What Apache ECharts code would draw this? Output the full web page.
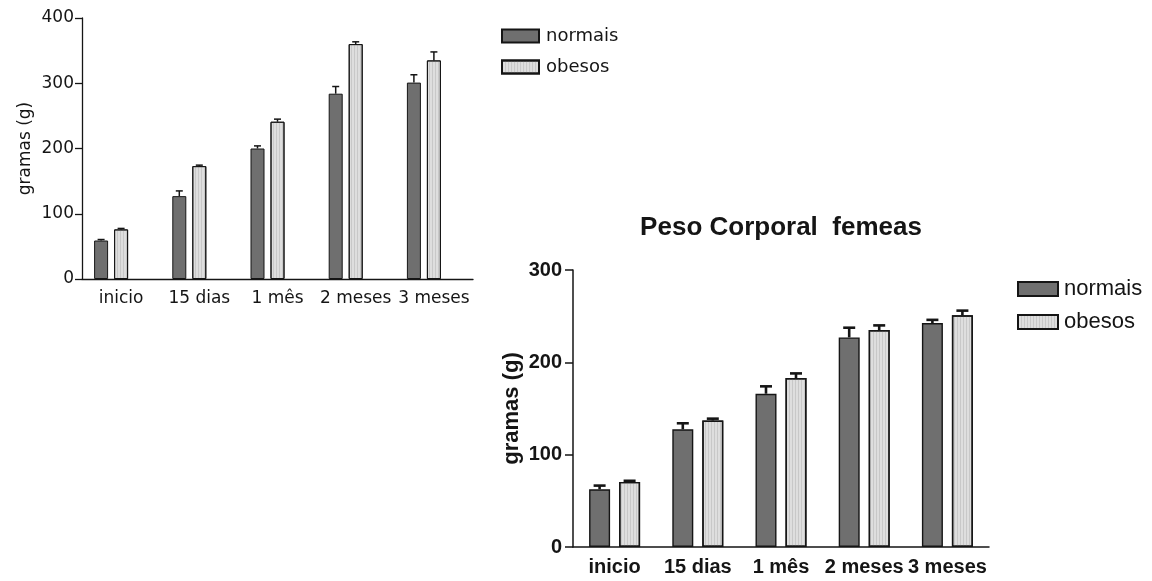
<!DOCTYPE html>
<html>
<head>
<meta charset="utf-8">
<script src="https://cdn.jsdelivr.net/npm/echarts@6/dist/echarts.min.js"></script>
<style>
  html, body { margin: 0; padding: 0; background: #fff; }
  #chart { width: 1152px; height: 581px; }
</style>
</head>
<body>
<div id="chart"></div>
<script>
// Body weight (g) of normal vs obese rats over time
const categories = ['inicio', '15 dias', '1 mês', '2 meses', '3 meses'];

// Upper panel (males)
const machosNormais = [59, 127, 200, 284, 301];
const machosNormaisErro = [1.5, 8, 4, 11, 12];
const machosObesos = [76, 173, 241, 360, 335];
const machosObesosErro = [1.5, 1.5, 4, 3.5, 13];
const machosTicks = [0, 100, 200, 300, 400];

// Lower panel (females)
const femeasNormais = [62.5, 127.5, 166, 227, 242.5];
const femeasNormaisErro = [4, 6.5, 8, 10.5, 3.5];
const femeasObesos = [70.5, 137, 183, 235, 251];
const femeasObesosErro = [1.2, 2, 5, 5, 5];
const femeasTicks = [0, 100, 200, 300];

const seriesNames = ['normais', 'obesos'];
const titleFemeas = 'Peso Corporal  femeas';
const yName = 'gramas (g)';

// styling
const DARK = '#6f6f6f';
const LIGHT = '#dedede';
const INK = '#151515';
const FONT1 = 'DejaVu Sans';
const FONT2 = 'Liberation Sans';

const W1 = 14, GAP1 = 6, N1 = 3;   // upper panel reserves a third, empty slot
const W2 = 21, GAP2 = 9, N2 = 2;

function slotOffset(w, gap, n, i) {
  const total = n * w + (n - 1) * gap;
  return -total / 2 + w / 2 + i * (w + gap);
}

function errRows(vals, errs) {
  return categories.map((c, i) => [c, vals[i], errs[i]]);
}

function errorSeries(axisIdx, vals, errs, offset, capW, lw) {
  return {
    type: 'custom',
    xAxisIndex: axisIdx,
    yAxisIndex: axisIdx,
    z: 5,
    silent: true,
    encode: { x: 0, y: 1 },
    data: errRows(vals, errs),
    renderItem: function (params, api) {
      const base = api.coord([api.value(0), api.value(1)]);
      const top = api.coord([api.value(0), api.value(1) + api.value(2)]);
      const x = base[0] + offset;
      const st = { stroke: INK, lineWidth: lw };
      return {
        type: 'group',
        children: [
          { type: 'line', shape: { x1: x, y1: base[1], x2: x, y2: top[1] }, style: st },
          { type: 'line', shape: { x1: x - capW / 2, y1: top[1], x2: x + capW / 2, y2: top[1] }, style: st }
        ]
      };
    }
  };
}

const stripes = {
  symbol: 'rect',
  symbolSize: 1,
  dashArrayX: [1, 2],
  dashArrayY: [10, 0],
  rotation: 0,
  color: 'rgba(160,160,160,0.35)'
};

const chart = echarts.init(document.getElementById('chart'), null, { renderer: 'canvas' });

const option = {
  animation: false,
  backgroundColor: '#ffffff',
  title: {
    text: titleFemeas,
    left: 781,
    top: 215,
    padding: 0,
    textAlign: 'center',
    textStyle: { fontFamily: FONT2, fontSize: 26, fontWeight: 'bold', color: INK }
  },
  legend: [
    {
      orient: 'vertical',
      left: 501,
      top: 27,
      padding: 0,
      itemWidth: 37,
      itemHeight: 13,
      itemGap: 13,
      icon: 'rect',
      data: seriesNames,
      selectedMode: false,
      textStyle: { fontFamily: FONT1, fontSize: 18, color: INK, padding: [0, 0, 0, 2] }
    },
    {
      orient: 'vertical',
      left: 1017,
      top: 278,
      padding: 0,
      itemWidth: 40,
      itemHeight: 14,
      itemGap: 11,
      icon: 'rect',
      data: seriesNames,
      selectedMode: false,
      textStyle: { fontFamily: FONT2, fontSize: 22, color: INK, padding: [0, 0, 0, 1] }
    }
  ],
  grid: [
    { left: 82, top: 18, width: 391, height: 261 },
    { left: 573, top: 270, width: 416, height: 277 }
  ],
  xAxis: [
    {
      type: 'category',
      gridIndex: 0,
      data: categories,
      axisLine: { lineStyle: { color: INK, width: 1.3 } },
      axisTick: { show: false },
      axisLabel: { fontFamily: FONT1, fontSize: 17, color: INK, margin: 11, interval: 0 }
    },
    {
      type: 'category',
      gridIndex: 1,
      data: categories,
      axisLine: { lineStyle: { color: INK, width: 1.5 } },
      axisTick: { show: false },
      axisLabel: { fontFamily: FONT2, fontSize: 20, fontWeight: 'bold', color: INK, margin: 10, interval: 0 }
    }
  ],
  yAxis: [
    {
      type: 'value',
      gridIndex: 0,
      min: machosTicks[0],
      max: machosTicks[machosTicks.length - 1],
      interval: machosTicks[1] - machosTicks[0],
      name: yName,
      nameLocation: 'middle',
      nameRotate: 90,
      nameGap: 48,
      nameTextStyle: { fontFamily: FONT1, fontSize: 17, color: INK },
      splitLine: { show: false },
      axisLine: { show: true, lineStyle: { color: INK, width: 1.3 } },
      axisTick: { show: true, length: 7, lineStyle: { color: INK, width: 1.3 } },
      axisLabel: { fontFamily: FONT1, fontSize: 17, color: INK, margin: 8 }
    },
    {
      type: 'value',
      gridIndex: 1,
      min: femeasTicks[0],
      max: femeasTicks[femeasTicks.length - 1],
      interval: femeasTicks[1] - femeasTicks[0],
      name: yName,
      nameLocation: 'middle',
      nameRotate: 90,
      nameGap: 50,
      nameTextStyle: { fontFamily: FONT2, fontSize: 22, fontWeight: 'bold', color: INK },
      splitLine: { show: false },
      axisLine: { show: true, lineStyle: { color: INK, width: 1.5 } },
      axisTick: { show: true, length: 8, lineStyle: { color: INK, width: 1.5 } },
      axisLabel: { fontFamily: FONT2, fontSize: 20, fontWeight: 'bold', color: INK, margin: 11 }
    }
  ],
  series: [
    {
      name: seriesNames[0], type: 'bar', xAxisIndex: 0, yAxisIndex: 0,
      barWidth: W1, barGap: (GAP1 / W1 * 100) + '%',
      itemStyle: { color: DARK, borderColor: INK, borderWidth: 1 },
      data: machosNormais
    },
    {
      name: seriesNames[1], type: 'bar', xAxisIndex: 0, yAxisIndex: 0,
      barWidth: W1, barGap: (GAP1 / W1 * 100) + '%',
      itemStyle: { color: LIGHT, borderColor: INK, borderWidth: 1, decal: stripes },
      data: machosObesos
    },
    {
      // empty slot on the right of each group in the upper panel
      type: 'bar', xAxisIndex: 0, yAxisIndex: 0,
      barWidth: W1, barGap: (GAP1 / W1 * 100) + '%',
      silent: true,
      data: categories.map(() => '-')
    },
    {
      name: seriesNames[0], type: 'bar', xAxisIndex: 1, yAxisIndex: 1,
      barWidth: W2, barGap: (GAP2 / W2 * 100) + '%',
      itemStyle: { color: DARK, borderColor: INK, borderWidth: 1.4 },
      data: femeasNormais
    },
    {
      name: seriesNames[1], type: 'bar', xAxisIndex: 1, yAxisIndex: 1,
      barWidth: W2, barGap: (GAP2 / W2 * 100) + '%',
      itemStyle: { color: LIGHT, borderColor: INK, borderWidth: 1.4, decal: stripes },
      data: femeasObesos
    },
    errorSeries(0, machosNormais, machosNormaisErro, slotOffset(W1, GAP1, N1, 0), 7, 1.5),
    errorSeries(0, machosObesos, machosObesosErro, slotOffset(W1, GAP1, N1, 1), 7, 1.5),
    errorSeries(1, femeasNormais, femeasNormaisErro, slotOffset(W2, GAP2, N2, 0), 12, 2.6),
    errorSeries(1, femeasObesos, femeasObesosErro, slotOffset(W2, GAP2, N2, 1), 12, 2.6)
  ]
};

chart.setOption(option);
</script>
</body>
</html>
